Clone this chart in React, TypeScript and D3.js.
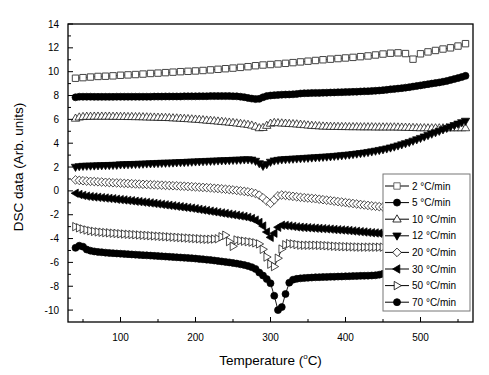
import React from 'react';
import * as d3 from 'd3';

// Temperatures (°C) of the dense series and of the sparse 2 °C/min series
const temps: number[] = [
  40, 45, 50, 55, 60, 65, 70, 75, 80, 85,
  90, 95, 100, 105, 110, 115, 120, 125, 130, 135,
  140, 145, 150, 155, 160, 165, 170, 175, 180, 185,
  190, 195, 200, 205, 210, 215, 220, 225, 230, 235,
  240, 245, 250, 255, 260, 265, 270, 275, 280, 285,
  290, 295, 300, 305, 310, 315, 320, 325, 330, 335,
  340, 345, 350, 355, 360, 365, 370, 375, 380, 385,
  390, 395, 400, 405, 410, 415, 420, 425, 430, 435,
  440, 445, 450, 455, 460, 465, 470, 475, 480, 485,
  490, 495, 500, 505, 510, 515, 520, 525, 530, 535,
  540, 545, 550, 555, 560,
];
const tempsSparse: number[] = [
  40, 50, 60, 70, 80, 90, 100, 110, 120, 130, 140, 150, 160, 170, 180, 190, 200, 210,
  220, 230, 240, 250, 260, 270, 280, 290, 300, 310, 320, 330, 340, 350, 360, 370, 380,
  390, 400, 410, 420, 430, 440, 450, 460, 470, 480, 490, 500, 510, 520, 530, 540, 550, 560,
];

const rate2: number[] = [
  9.45, 9.5, 9.55, 9.6, 9.62, 9.65, 9.7, 9.73, 9.76, 9.8, 9.85, 9.88, 9.92, 9.96, 10.0, 10.03, 10.06, 10.1,
  10.15, 10.2, 10.25, 10.3, 10.36, 10.42, 10.5, 10.56, 10.6, 10.65, 10.7, 10.76, 10.82, 10.88, 10.94, 11.0, 11.05,
  11.1, 11.15, 11.2, 11.26, 11.32, 11.4, 11.48, 11.55, 11.58, 11.52, 11.05, 11.5, 11.66, 11.78, 11.9, 12.0, 12.15, 12.35,
];
const rate5: number[] = [
  7.85, 7.9, 7.9, 7.9, 7.9, 7.89, 7.89, 7.89, 7.89, 7.89,
  7.89, 7.9, 7.9, 7.9, 7.9, 7.9, 7.9, 7.9, 7.9, 7.9,
  7.9, 7.91, 7.91, 7.91, 7.92, 7.92, 7.92, 7.92, 7.92, 7.93,
  7.93, 7.93, 7.93, 7.94, 7.94, 7.94, 7.95, 7.95, 7.95, 7.95,
  7.95, 7.95, 7.94, 7.93, 7.9, 7.86, 7.8, 7.74, 7.7, 7.72,
  7.85, 7.95, 8.0, 8.03, 8.05, 8.07, 8.08, 8.09, 8.1, 8.13,
  8.17, 8.19, 8.2, 8.21, 8.22, 8.22, 8.23, 8.24, 8.25, 8.26,
  8.27, 8.28, 8.29, 8.3, 8.31, 8.32, 8.34, 8.35, 8.36, 8.38,
  8.4, 8.42, 8.45, 8.48, 8.52, 8.55, 8.58, 8.62, 8.66, 8.7,
  8.75, 8.8, 8.85, 8.9, 8.95, 9.0, 9.05, 9.1, 9.16, 9.22,
  9.3, 9.38, 9.46, 9.55, 9.65,
];
const rate10: number[] = [
  6.08, 6.18, 6.22, 6.24, 6.24, 6.25, 6.25, 6.25, 6.25, 6.25,
  6.24, 6.24, 6.23, 6.23, 6.22, 6.22, 6.21, 6.21, 6.2, 6.19,
  6.18, 6.17, 6.16, 6.15, 6.14, 6.13, 6.11, 6.1, 6.08, 6.06,
  6.04, 6.02, 6.0, 5.98, 5.95, 5.92, 5.9, 5.87, 5.84, 5.81,
  5.78, 5.75, 5.72, 5.68, 5.64, 5.6, 5.56, 5.5, 5.4, 5.28,
  5.3, 5.48, 5.66, 5.72, 5.7, 5.68, 5.66, 5.64, 5.62, 5.6,
  5.57, 5.54, 5.51, 5.48, 5.46, 5.44, 5.42, 5.41, 5.4, 5.39,
  5.39, 5.38, 5.38, 5.37, 5.37, 5.37, 5.36, 5.36, 5.36, 5.36,
  5.35, 5.35, 5.35, 5.35, 5.35, 5.35, 5.34, 5.33, 5.32, 5.31,
  5.3, 5.29, 5.28, 5.28, 5.27, 5.27, 5.27, 5.27, 5.27, 5.28,
  5.28, 5.28, 5.28, 5.28, 5.28,
];
const rate12: number[] = [
  2.0, 2.05, 2.08, 2.09, 2.1, 2.11, 2.12, 2.13, 2.14, 2.15,
  2.16, 2.17, 2.2, 2.21, 2.22, 2.23, 2.24, 2.25, 2.26, 2.28,
  2.29, 2.3, 2.32, 2.33, 2.34, 2.35, 2.36, 2.38, 2.39, 2.4,
  2.42, 2.43, 2.45, 2.46, 2.47, 2.49, 2.5, 2.51, 2.53, 2.54,
  2.55, 2.56, 2.58, 2.59, 2.6, 2.62, 2.63, 2.6, 2.5, 2.3,
  2.08, 2.22, 2.42, 2.53, 2.58, 2.62, 2.64, 2.66, 2.68, 2.7,
  2.72, 2.74, 2.76, 2.78, 2.8, 2.82, 2.84, 2.86, 2.88, 2.91,
  2.94, 2.97, 3.0, 3.03, 3.07, 3.11, 3.15, 3.19, 3.24, 3.29,
  3.35, 3.41, 3.47, 3.54, 3.62, 3.7, 3.79, 3.88, 3.98, 4.08,
  4.19, 4.3, 4.42, 4.54, 4.66, 4.78, 4.9, 5.02, 5.14, 5.26,
  5.38, 5.5, 5.62, 5.74, 5.86,
];
const rate20: number[] = [
  0.92, 0.88, 0.85, 0.82, 0.8, 0.78, 0.76, 0.74, 0.72, 0.7,
  0.68, 0.67, 0.65, 0.63, 0.62, 0.6, 0.58, 0.57, 0.55, 0.54,
  0.52, 0.51, 0.49, 0.48, 0.46, 0.45, 0.43, 0.42, 0.4, 0.39,
  0.37, 0.35, 0.33, 0.31, 0.29, 0.27, 0.25, 0.22, 0.2, 0.17,
  0.14, 0.11, 0.08, 0.04, 0.0, -0.04, -0.08, -0.14, -0.22, -0.36,
  -0.58, -0.85, -1.05, -0.75, -0.42, -0.35, -0.38, -0.42, -0.46, -0.5,
  -0.54, -0.57, -0.6, -0.63, -0.66, -0.7, -0.74, -0.78, -0.82, -0.86,
  -0.9, -0.94, -0.98, -1.02, -1.06, -1.1, -1.14, -1.18, -1.22, -1.26,
  -1.29, -1.32, -1.35, -1.38, -1.4, -1.42, -1.43, -1.44, -1.45, -1.45,
  -1.44, -1.42, -1.4, -1.37, -1.33, -1.28, -1.22, -1.16, -1.1, -1.03,
  -0.95, -0.87, -0.79, -0.7, -0.6,
];
const rate30: number[] = [
  -0.2, -0.3, -0.38, -0.44, -0.48, -0.51, -0.54, -0.57, -0.6, -0.63,
  -0.66, -0.7, -0.73, -0.76, -0.8, -0.83, -0.87, -0.9, -0.94, -0.97,
  -1.01, -1.05, -1.09, -1.13, -1.17, -1.21, -1.25, -1.29, -1.33, -1.37,
  -1.41, -1.45, -1.5, -1.55, -1.6, -1.65, -1.7, -1.75, -1.8, -1.85,
  -1.9, -1.95, -2.0, -2.05, -2.1, -2.15, -2.22, -2.32, -2.45, -2.65,
  -2.95, -3.45, -3.9, -3.55, -3.05, -2.88, -2.9, -2.94, -2.98, -3.02,
  -3.05, -3.07, -3.09, -3.11, -3.13, -3.15, -3.17, -3.19, -3.21, -3.24,
  -3.26, -3.28, -3.3, -3.33, -3.36, -3.39, -3.42, -3.45, -3.48, -3.51,
  -3.53, -3.55, -3.57, -3.58, -3.59, -3.6, -3.61, -3.61, -3.62, -3.62,
  -3.62, -3.62, -3.62, -3.61, -3.61, -3.6, -3.6, -3.59, -3.58, -3.57,
  -3.56, -3.55, -3.54, -3.53, -3.52,
];
const rate50: number[] = [
  -3.0, -3.1, -3.2, -3.28, -3.35, -3.4, -3.44, -3.47, -3.5, -3.52,
  -3.55, -3.57, -3.6, -3.62, -3.64, -3.66, -3.68, -3.7, -3.72, -3.74,
  -3.76, -3.78, -3.8, -3.82, -3.84, -3.86, -3.88, -3.9, -3.92, -3.94,
  -3.96, -3.98, -4.0, -4.02, -4.04, -4.06, -4.06, -4.04, -4.02, -3.85,
  -3.72, -4.25, -4.65, -4.12, -4.18, -4.22, -4.26, -4.3, -4.36, -4.45,
  -4.9, -5.55, -6.15, -6.35, -5.65, -4.88, -4.52, -4.42, -4.45, -4.5,
  -4.55, -4.56, -4.56, -4.56, -4.56, -4.57, -4.58, -4.6, -4.62, -4.64,
  -4.66, -4.67, -4.68, -4.69, -4.7, -4.71, -4.72, -4.72, -4.72, -4.72,
  -4.72, -4.72, -4.72, -4.71, -4.7, -4.69, -4.67, -4.65, -4.62, -4.59,
  -4.55, -4.51, -4.46, -4.41, -4.35, -4.28, -4.21, -4.14, -4.06, -3.98,
  -3.89, -3.8, -3.7, -3.58, -3.45,
];
const rate70: number[] = [
  -4.78, -4.6, -4.68, -4.92, -5.02, -5.08, -5.12, -5.15, -5.18, -5.21,
  -5.23, -5.25, -5.27, -5.29, -5.31, -5.33, -5.35, -5.37, -5.39, -5.41,
  -5.43, -5.45, -5.47, -5.49, -5.51, -5.53, -5.55, -5.57, -5.59, -5.61,
  -5.63, -5.65, -5.68, -5.71, -5.74, -5.77, -5.8, -5.84, -5.88, -5.92,
  -5.96, -6.0, -6.05, -6.1, -6.16, -6.22, -6.3, -6.4, -6.55, -6.85,
  -7.1, -7.4, -7.75, -8.8, -10.0, -9.75, -8.65, -7.7, -7.45, -7.38,
  -7.34, -7.31, -7.29, -7.27, -7.25, -7.24, -7.23, -7.22, -7.21, -7.2,
  -7.19, -7.18, -7.17, -7.16, -7.15, -7.14, -7.13, -7.12, -7.11, -7.1,
  -7.08, -7.03, -6.96, -6.9, -6.84, -6.76, -6.68, -6.6, -6.52, -6.44,
  -6.36, -6.28, -6.2, -6.12, -6.04, -5.96, -5.88, -5.8, -5.72, -5.64,
  -5.56, -5.48, -5.4, -5.32, -5.24,
];

const rateLabels: string[] = ['2', '5', '10', '12', '20', '30', '50', '70'];
const markerKinds: string[] = ['square', 'circle', 'up', 'down', 'diamond', 'left', 'right', 'circle'];
const markerFilled: boolean[] = [false, true, false, true, false, true, false, true];

const xTicks: number[] = [100, 200, 300, 400, 500];
const xMinorTicks: number[] = [50, 150, 250, 350, 450, 550];
const yTicks: number[] = [-10, -8, -6, -4, -2, 0, 2, 4, 6, 8, 10, 12, 14];
const yMinorTicks: number[] = [-9, -7, -5, -3, -1, 1, 3, 5, 7, 9, 11, 13];

const W = 489;
const H = 375;
const L = 68, R = 473, T = 24, B = 322;
const FONT = 'Arial, "Liberation Sans", Helvetica, sans-serif';

function markerPath(kind: string): string {
  switch (kind) {
    case 'square':
      return 'M-3.2,-3.2h6.4v6.4h-6.4Z';
    case 'circle':
      return 'M3.5,0A3.5,3.5 0 1,1 -3.5,0A3.5,3.5 0 1,1 3.5,0Z';
    case 'up':
      return 'M0,-4.4L4.2,2.8L-4.2,2.8Z';
    case 'down':
      return 'M0,4.4L4.2,-2.8L-4.2,-2.8Z';
    case 'diamond':
      return 'M0,-4.3L4.3,0L0,4.3L-4.3,0Z';
    case 'left':
      return 'M-4.4,0L2.8,-4.2L2.8,4.2Z';
    case 'right':
      return 'M4.4,0L-2.8,-4.2L-2.8,4.2Z';
    default:
      return '';
  }
}

export default function App() {
  const x = d3.scaleLinear().domain([30, 570]).range([L, R]);
  const y = d3.scaleLinear().domain([-11, 14]).range([B, T]);

  const valueSets = [rate2, rate5, rate10, rate12, rate20, rate30, rate50, rate70];
  const series = valueSets.map((vals, i) => {
    const xs = i === 0 ? tempsSparse : temps;
    return {
      label: rateLabels[i],
      kind: markerKinds[i],
      filled: markerFilled[i],
      pts: vals.map((v, j) => [xs[j], v] as [number, number]),
    };
  });

  const line = d3
    .line<[number, number]>()
    .x((d) => x(d[0]))
    .y((d) => y(d[1]));

  const legX = 383, legY = 174, legW = 87, legH = 137;
  const rowY0 = 186, rowDy = 16.6;

  return (
    <svg
      width={W}
      height={H}
      style={{ position: 'absolute', left: 0, top: 0, background: '#fff' }}
      fontFamily={FONT}
    >
      <rect x={0} y={0} width={W} height={H} fill="#fff" />
      {series.map((s, i) => (
        <g key={i}>
          <path d={line(s.pts) || ''} fill="none" stroke="#000" strokeWidth={0.9} />
          {s.pts.map((p, j) => (
            <path
              key={j}
              d={markerPath(s.kind)}
              transform={`translate(${x(p[0])},${y(p[1])})`}
              fill={s.filled ? '#000' : '#fff'}
              stroke={i === 0 ? '#444' : '#000'}
              strokeWidth={i === 0 ? 1 : 0.7}
            />
          ))}
        </g>
      ))}

      {/* legend */}
      <rect x={legX} y={legY} width={legW} height={legH} fill="#fff" stroke="#777" strokeWidth={1} />
      {series.map((s, i) => {
        const ry = rowY0 + i * rowDy;
        return (
          <g key={'leg' + i}>
            <line x1={385} x2={409} y1={ry} y2={ry} stroke="#000" strokeWidth={1} />
            <path
              d={markerPath(s.kind)}
              transform={`translate(397,${ry})`}
              fill={s.filled ? '#000' : '#fff'}
              stroke={i === 0 ? '#444' : '#000'}
              strokeWidth={0.8}
            />
            <text x={412} y={ry + 3.6} fontSize={10} fill="#000">
              {s.label + ' °C/min'}
            </text>
          </g>
        );
      })}

      {/* frame */}
      <rect x={L} y={T} width={R - L} height={B - T} fill="none" stroke="#000" strokeWidth={1.3} />

      {/* y ticks */}
      {yTicks.map((t) => (
        <g key={'yt' + t}>
          <line x1={L} x2={L + 5} y1={y(t)} y2={y(t)} stroke="#000" strokeWidth={1} />
          <text x={59} y={y(t) + 3.6} fontSize={10} textAnchor="end" fill="#000">
            {t}
          </text>
        </g>
      ))}
      {yMinorTicks.map((t) => (
        <line key={'ym' + t} x1={L} x2={L + 3} y1={y(t)} y2={y(t)} stroke="#000" strokeWidth={1} />
      ))}

      {/* x ticks */}
      {xTicks.map((t) => (
        <g key={'xt' + t}>
          <line x1={x(t)} x2={x(t)} y1={B} y2={B - 5} stroke="#000" strokeWidth={1} />
          <text x={x(t)} y={341} fontSize={10} textAnchor="middle" fill="#000">
            {t}
          </text>
        </g>
      ))}
      {xMinorTicks.map((t) => (
        <line key={'xm' + t} x1={x(t)} x2={x(t)} y1={B} y2={B - 3} stroke="#000" strokeWidth={1} />
      ))}

      {/* axis titles */}
      <text x={(L + R) / 2} y={365} fontSize={13.5} textAnchor="middle" fill="#000">
        Temperature (<tspan fontSize={8} dy={-6}>o</tspan>
        <tspan dy={6}>C)</tspan>
      </text>
      <text
        transform={`translate(23,${167}) rotate(-90)`}
        fontSize={13.5}
        textAnchor="middle"
        fill="#000"
      >
        DSC data (Arb. units)
      </text>
    </svg>
  );
}
